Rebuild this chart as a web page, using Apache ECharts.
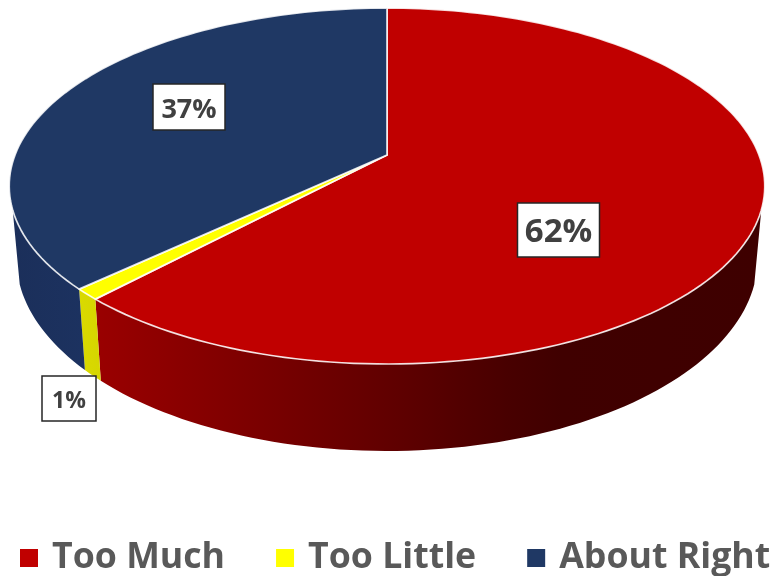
<!DOCTYPE html>
<html>
<head>
<meta charset="utf-8">
<style>html,body{margin:0;padding:0;background:#fff}#c{width:774px;height:576px}</style>
<script src="https://cdn.jsdelivr.net/npm/echarts@6/dist/echarts.min.js"></script>
</head>
<body>
<div id="c"></div>
<script>
const categories = ['Too Much', 'Too Little', 'About Right'];
const values = [62, 1, 37];
const labelTexts = ['62%', '1%', '37%'];

const topColors = ['#C00000', '#FFFF00', '#1F3864'];
const wallStops = [
  [[0, '#9A0000'], [0.16, '#860000'], [0.31, '#720000'], [0.46, '#5E0000'], [0.62, '#480000'], [0.70, '#400000'], [1, '#3E0000']],
  [[0, '#DADA00'], [1, '#D6D600']],
  [[0, '#1B2F5A'], [1, '#1C3260']]
];
const wallSpans = [[95, 761], [78, 101], [13, 85]];
const labelBoxes = [
  {cx: 558.5, cy: 230, w: 82, h: 54, font: 33},
  {cx: 69, cy: 398.5, w: 54, h: 45, font: 23},
  {cx: 189, cy: 107, w: 72, h: 46, font: 27}
];

/* perspective projection of the pie plane */
const view = {cx: 387, k: 0.1742, topR: 372, topC: 155, topA: 145.6, botR: 365, botC: 225, botA: 147.4, wallFrom: 107.6, wallTo: 252.4};
const total = values.reduce((a, b) => a + b, 0);
const starts = values.map((v, i) => values.slice(0, i).reduce((a, b) => a + b, 0) / total * 360);

function project(deg, R, C, A) {
  const t = deg * Math.PI / 180, u = Math.sin(t), v = Math.cos(t), d = 1 + view.k * v;
  return [view.cx + R * u / d, (C - A * v) / d];
}
const onTop = d => project(d, view.topR, view.topC, view.topA);
const onBot = d => project(d, view.botR, view.botC, view.botA);
function arc(fn, a, b) {
  const pts = [], n = Math.max(2, Math.ceil(Math.abs(b - a) / 1.5));
  for (let i = 0; i <= n; i++) pts.push(fn(a + (b - a) * i / n));
  return pts;
}

function renderSlice(i) {
  return function () {
    const a = starts[i], b = a + values[i] / total * 360;
    const children = [];
    const wa = Math.max(a, view.wallFrom), wb = Math.min(b, view.wallTo);
    if (wb > wa) {
      children.push({
        type: 'polygon', z2: 1,
        shape: {points: arc(onTop, wa, wb).concat(arc(onBot, wb, wa))},
        style: {
          fill: new echarts.graphic.LinearGradient(wallSpans[i][0], 0, wallSpans[i][1], 0,
            wallStops[i].map(s => ({offset: s[0], color: s[1]})), true)
        }
      });
    }
    children.push({
      type: 'polygon', z2: 2,
      shape: {points: [[view.cx, view.topC]].concat(arc(onTop, a, b))},
      style: {fill: topColors[i], stroke: 'rgba(255,255,255,0.85)', lineWidth: 1.7, lineJoin: 'round'}
    });
    const box = labelBoxes[i];
    children.push({
      type: 'rect', z2: 10,
      shape: {x: box.cx - box.w / 2, y: box.cy - box.h / 2, width: box.w, height: box.h},
      style: {fill: '#fff', stroke: '#262626', lineWidth: 1.5}
    });
    children.push({
      type: 'text', z2: 11,
      style: {
        x: box.cx, y: box.cy + 3, text: labelTexts[i], align: 'center', verticalAlign: 'middle',
        fill: '#404040', font: '700 ' + box.font + 'px "Open Sans", sans-serif'
      }
    });
    return {type: 'group', children: children};
  };
}

const chart = echarts.init(document.getElementById('c'), null, {renderer: 'canvas'});
chart.setOption({
  animation: false,
  backgroundColor: '#fff',
  legend: {
    data: categories,
    left: 20, top: 540, padding: 0, width: 900,
    icon: 'rect', itemWidth: 18, itemHeight: 18, itemGap: 51,
    selectedMode: false,
    textStyle: {color: '#595959', fontFamily: '"Open Sans", sans-serif', fontWeight: 700, fontSize: 35.7, padding: [3, 0, 0, 9]}
  },
  series: categories.map((name, i) => ({
    type: 'custom',
    name: name,
    coordinateSystem: 'none',
    silent: true,
    itemStyle: {color: topColors[i]},
    data: [values[i]],
    renderItem: renderSlice(i)
  }))
});
</script>
</body>
</html>
